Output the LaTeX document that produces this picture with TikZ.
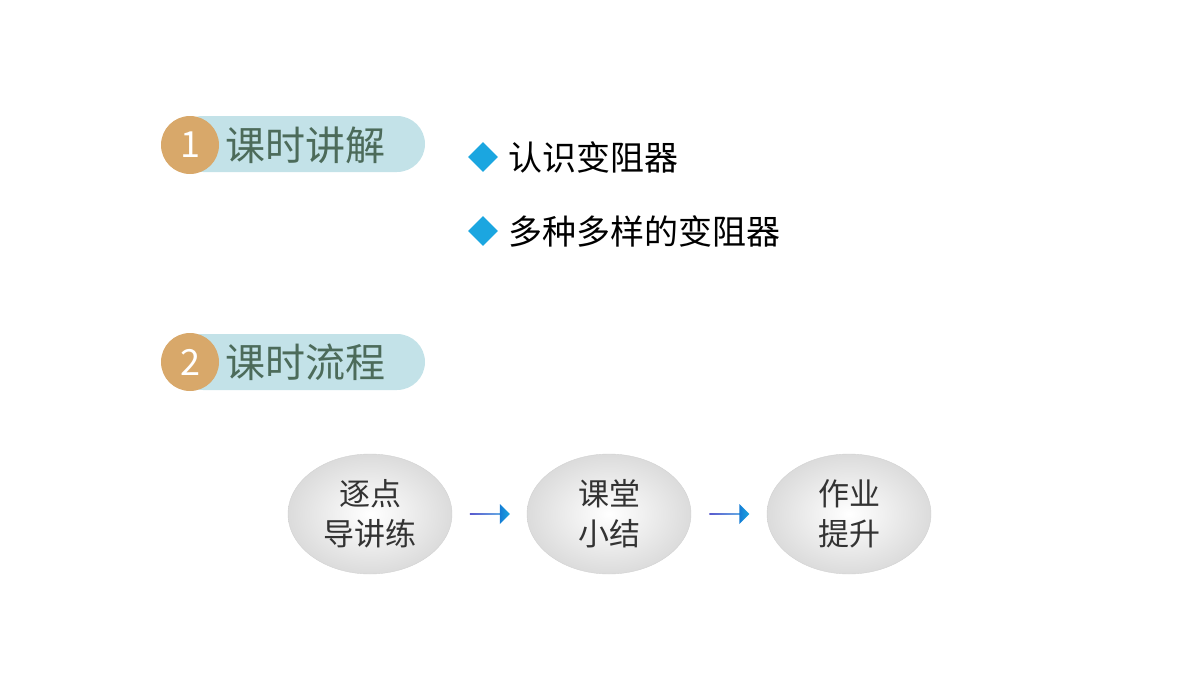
\documentclass[tikz,border=0pt]{standalone}
\usepackage{fontspec}
\newfontfamily\cjk{Noto Sans CJK SC}
\usetikzlibrary{shapes.geometric,shapes.arrows,calc}
\definecolor{tan}{HTML}{D8A86A}
\definecolor{pill}{HTML}{C3E2E8}
\definecolor{ttl}{HTML}{4C6B5A}
\definecolor{cy}{HTML}{1BA6E0}
\begin{document}
\begin{tikzpicture}[x=1pt,y=-1pt,
 badge/.style={circle,fill=tan,minimum size=58pt,inner sep=0pt,text=white,font=\cjk\fontsize{36}{36}\selectfont},
 pilltxt/.style={font=\cjk\fontsize{40}{40}\selectfont,text=ttl,anchor=west,inner sep=0pt},
 bul/.style={diamond,fill=cy,minimum size=30pt,inner sep=0pt},
 btxt/.style={font=\cjk\fontsize{34}{34}\selectfont,anchor=west,inner sep=0pt},
 oval/.style={ellipse,minimum width=164pt,minimum height=120pt,draw=gray!35,inner color=white,outer color=gray!28,align=center,font=\cjk\fontsize{31}{40}\selectfont,text=black!80},
 arr/.style={single arrow,draw=none,left color=blue!70!black,right color=cy,minimum height=40pt,minimum width=20pt,single arrow head extend=3pt,inner sep=0pt}]
\useasboundingbox (0,0) rectangle (1200,675);
% section 1
\fill[pill,rounded corners=28pt] (175,116) rectangle (425,172);
\node[badge] (b1) at (190,145) {1};
\node[pilltxt] (t1) at (225,145) {课时讲解};
% section 2
\fill[pill,rounded corners=28pt] (175,334) rectangle (425,390);
\node[badge] (b2) at (190,362) {2};
\node[pilltxt] (t2) at (225,362) {课时流程};
% bullets
\node[bul] (d1) at (483,157) {};
\node[btxt] (l1) at (508,157) {认识变阻器};
\node[bul] (d2) at (483,231) {};
\node[btxt] (l2) at (508,231) {多种多样的变阻器};
% flow
\node[oval] (e1) at (370,514) {逐点\\导讲练};
\node[oval] (e2) at (609,514) {课堂\\小结};
\node[oval] (e3) at (849,514) {作业\\提升};
\node[arr] (a1) at ($(e1.east)!0.5!(e2.west)$) {};
\node[arr] (a2) at ($(e2.east)!0.5!(e3.west)$) {};
\end{tikzpicture}
\end{document}
